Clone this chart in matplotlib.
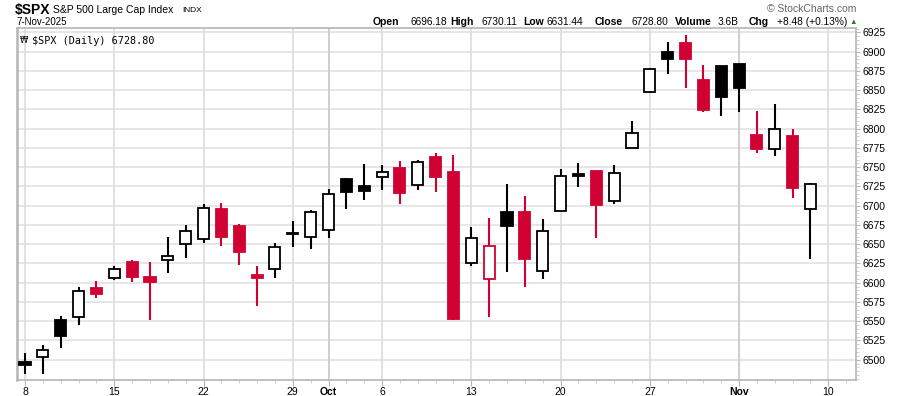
import numpy as np
import matplotlib
matplotlib.use("Agg")
import matplotlib.pyplot as plt
from matplotlib.ticker import MultipleLocator

# ---- data ----
dates = ["2025-09-08", "2025-09-09", "2025-09-10", "2025-09-11", "2025-09-12",
         "2025-09-15", "2025-09-16", "2025-09-17", "2025-09-18", "2025-09-19",
         "2025-09-22", "2025-09-23", "2025-09-24", "2025-09-25", "2025-09-26",
         "2025-09-29", "2025-09-30", "2025-10-01", "2025-10-02", "2025-10-03",
         "2025-10-06", "2025-10-07", "2025-10-08", "2025-10-09", "2025-10-10",
         "2025-10-13", "2025-10-14", "2025-10-15", "2025-10-16", "2025-10-17",
         "2025-10-20", "2025-10-21", "2025-10-22", "2025-10-23", "2025-10-24",
         "2025-10-27", "2025-10-28", "2025-10-29", "2025-10-30", "2025-10-31",
         "2025-11-03", "2025-11-04", "2025-11-05", "2025-11-06", "2025-11-07"]
opens = [6497.1, 6503.2, 6551.2, 6555.1, 6592.8,
         6605.8, 6626.9, 6607.5, 6629.2, 6649.9,
         6656.4, 6695.4, 6673.3, 6610.1, 6617.5,
         6663.6, 6659.0, 6668.1, 6734.4, 6725.3,
         6737.0, 6748.6, 6726.6, 6762.9, 6743.4,
         6625.3, 6604.5, 6691.9, 6691.9, 6614.9,
         6692.8, 6740.8, 6745.1, 6706.6, 6774.6,
         6847.3, 6899.3, 6911.4, 6863.3, 6881.5,
         6884.1, 6791.9, 6773.7, 6790.6, 6696.18]
highs = [6508.4, 6518.8, 6556.8, 6594.1, 6602.3,
         6621.8, 6629.5, 6626.9, 6659.4, 6675.0,
         6702.3, 6704.0, 6676.3, 6621.8, 6651.2,
         6680.2, 6694.5, 6721.4, 6736.0, 6754.2,
         6752.9, 6757.7, 6759.4, 6768.5, 6765.9,
         6672.0, 6684.1, 6728.2, 6712.7, 6682.8,
         6747.7, 6755.5, 6745.1, 6752.9, 6810.5,
         6878.5, 6912.7, 6922.1, 6883.2, 6881.5,
         6884.1, 6823.1, 6832.1, 6799.7, 6730.11]
lows = [6481.9, 6481.9, 6515.7, 6545.5, 6580.6,
        6604.0, 6601.4, 6551.6, 6613.1, 6632.5,
        6651.2, 6648.1, 6623.1, 6570.2, 6606.6,
        6646.8, 6643.4, 6658.5, 6696.2, 6707.9,
        6720.8, 6702.7, 6720.8, 6718.2, 6551.2,
        6622.1, 6555.9, 6614.4, 6594.9, 6605.3,
        6692.8, 6724.7, 6658.5, 6702.7, 6774.6,
        6846.0, 6871.5, 6853.3, 6822.1, 6817.0,
        6822.1, 6768.9, 6765.0, 6710.5, 6631.44]
closes = [6493.6, 6512.3, 6531.2, 6588.9, 6585.8,
          6617.5, 6607.9, 6601.4, 6634.3, 6666.8,
          6696.7, 6659.8, 6640.3, 6606.6, 6646.0,
          6664.2, 6691.5, 6714.9, 6718.2, 6718.6,
          6743.4, 6717.0, 6756.4, 6737.7, 6553.3,
          6657.7, 6647.3, 6674.1, 6631.2, 6667.2,
          6738.2, 6738.6, 6701.4, 6742.1, 6794.1,
          6877.2, 6891.0, 6890.6, 6824.7, 6841.6,
          6853.3, 6774.1, 6799.3, 6723.4, 6728.80]
prev_close = 6481.5  # close before the first bar

tick_dates = ["2025-09-08", "2025-09-15", "2025-09-22", "2025-09-29", "2025-10-01",
              "2025-10-06", "2025-10-13", "2025-10-20", "2025-10-27", "2025-11-03",
              "2025-11-10"]
tick_labels = ["8", "15", "22", "29", "Oct", "6", "13", "20", "27", "Nov", "10"]
month_ticks = ["Oct", "Nov"]
y_ticks = np.arange(6500, 6926, 25)

# ---- style ----
red = "#d10032"
grid_c = "#e1e1e1"
spine_c = "#b5b5b5"
fnt = "Liberation Sans"

W, H = 900, 396
fig = plt.figure(figsize=(W / 100, H / 100), dpi=100)
fig.patch.set_facecolor("white")

L, R, T, B = 17, 856, 28, 380
ax = fig.add_axes([L / W, 1 - B / H, (R - L) / W, (B - T) / H])

x = np.busday_count(dates[0], dates)
o = np.array(opens)
h = np.array(highs)
lo = np.array(lows)
c = np.array(closes)
pc = np.concatenate([[prev_close], c[:-1]])

# grid lines
for v in y_ticks:
    ax.axhline(v, color=grid_c, lw=1.2, zorder=0)
xt = np.busday_count(dates[0], tick_dates)
for pos, lab in zip(xt, tick_labels):
    col = "#c6c6c6" if lab in month_ticks else "#dcdcdc"
    ax.axvline(pos, color=col, lw=1.2, zorder=0)

# candles
bw = 0.62
for i in range(len(x)):
    col = "black" if c[i] >= pc[i] else red
    top = max(o[i], c[i])
    bot = min(o[i], c[i])
    filled = c[i] < o[i]
    ax.vlines(x[i], top, h[i], color=col, lw=1.5, zorder=2)
    ax.vlines(x[i], lo[i], bot, color=col, lw=1.5, zorder=2)
    ax.bar(x[i], max(top - bot, 0.4), bottom=bot, width=bw,
           facecolor=col if filled else "white", edgecolor=col,
           linewidth=1.3, zorder=3)

ax.set_xlim(-0.45, 46.55)
ax.set_ylim(6473.7, 6930.8)

# axes / ticks
for s in ax.spines.values():
    s.set_color(spine_c)
    s.set_linewidth(1.2)
ax.spines["left"].set_linewidth(1.8)

ax.yaxis.tick_right()
ax.set_yticks(y_ticks)
ax.set_yticklabels([str(v) for v in y_ticks], fontsize=7.5, family=fnt)
ax.yaxis.set_minor_locator(MultipleLocator(5))
ax.tick_params(axis="y", which="major", length=3, color=spine_c, pad=1.5)
ax.tick_params(axis="y", which="minor", length=2, color="#c8c8c8")

ax.set_xticks(xt)
ax.set_xticklabels(tick_labels, fontsize=7.5, family=fnt)
for t in ax.get_xticklabels():
    if t.get_text() in month_ticks:
        t.set_fontweight("bold")
ax.set_xticks(np.arange(0, 47), minor=True)
ax.tick_params(axis="x", which="major", length=4, color=spine_c, pad=1)
ax.tick_params(axis="x", which="minor", length=2, color="#c8c8c8")

# legend text inside plot
ax.text(0.018, 0.978, "$SPX (Daily) 6728.80", transform=ax.transAxes,
        fontsize=7.3, family="DejaVu Sans Mono", va="top", ha="left")
ax.text(0.003, 0.978, "\u20a9", transform=ax.transAxes,
        fontsize=6, va="top", ha="left")

# header
def ftxt(px, py, s, **kw):
    fig.text(px / W, 1 - py / H, s, va="center", family=fnt, **kw)

ftxt(15, 10, "$SPX", fontsize=10, fontweight="bold")
ftxt(53, 10, "S&P 500 Large Cap Index", fontsize=7.5)
ftxt(182, 10, "INDX", fontsize=6)
ftxt(16, 22, "7-Nov-2025", fontsize=7)
ftxt(856, 9, "\u00a9 StockCharts.com", fontsize=7.5, color="#666666", ha="right")

hdr = [("Open", 373, "6696.18", 447), ("High", 450, "6730.11", 517),
       ("Low", 523, "6631.44", 583), ("Close", 595, "6728.80", 668),
       ("Volume", 675, "3.6B", 738), ("Chg", 749, "+8.48 (+0.13%)", 847)]
for lab, lx, val, vx in hdr:
    ftxt(lx, 22, lab, fontsize=7.5, fontweight="bold")
    ftxt(vx, 22, val, fontsize=7.3, ha="right")
ftxt(853, 22, "\u25b2", fontsize=5.5, color="#2e7d32", ha="center")

fig.savefig("out.png", dpi=100, facecolor="white")
